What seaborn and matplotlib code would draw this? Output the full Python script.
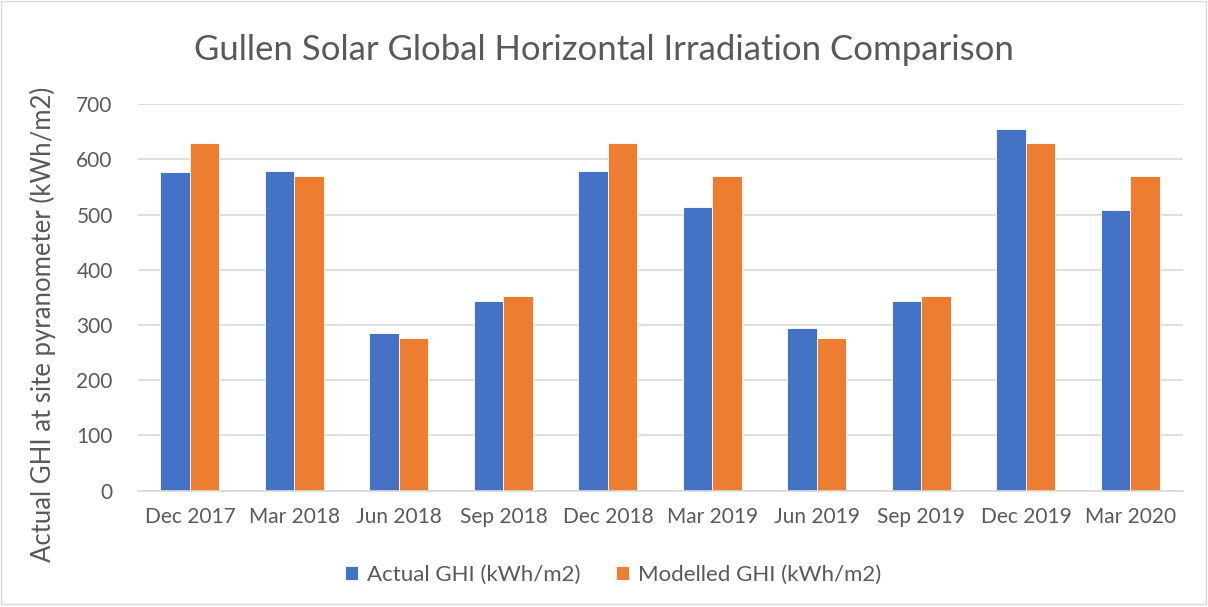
import pandas as pd
import matplotlib.pyplot as plt
import seaborn as sns
from matplotlib.patches import Rectangle

# quarter labels and values
quarters = ['Dec 2017', 'Mar 2018', 'Jun 2018', 'Sep 2018', 'Dec 2018',
            'Mar 2019', 'Jun 2019', 'Sep 2019', 'Dec 2019', 'Mar 2020']
actual_ghi = [578, 579, 285, 344, 579, 514, 295, 344, 655, 508]
modelled_ghi = [629, 570, 276, 353, 629, 570, 276, 353, 629, 570]

series_names = ['Actual GHI (kWh/m2)', 'Modelled GHI (kWh/m2)']
colors = ['#4472C4', '#ED7D31']

df = pd.DataFrame({
    'Quarter': quarters * 2,
    'GHI': actual_ghi + modelled_ghi,
    'Series': [series_names[0]] * len(quarters) + [series_names[1]] * len(quarters),
})

sns.set_style('white')
plt.rcParams['font.family'] = ['Lato', 'DejaVu Sans']
text_col = '#595959'

fig = plt.figure(figsize=(12.08, 6.07), dpi=100)
ax = fig.add_axes([0.114, 0.1916, 0.865, 0.6366])

sns.barplot(data=df, x='Quarter', y='GHI', hue='Series', palette=colors,
            width=0.565, ax=ax, saturation=1, edgecolor='white', linewidth=0.6)

ax.set_ylim(0, 700)
ax.set_yticks(range(0, 701, 100))
ax.set_xlim(-0.5, len(quarters) - 0.5)
ax.yaxis.grid(True, color='#d9d9d9', linewidth=1.2)
ax.set_axisbelow(True)
for side in ['top', 'right', 'left']:
    ax.spines[side].set_visible(False)
ax.spines['bottom'].set_color('#d9d9d9')
ax.spines['bottom'].set_linewidth(1.2)
ax.tick_params(axis='both', length=0, labelsize=15, colors=text_col)
ax.tick_params(axis='x', pad=12)
ax.tick_params(axis='y', pad=18)
ax.set_xlabel('')
ax.set_ylabel('Actual GHI at site pyranometer (kWh/m2)', fontsize=18.5, color=text_col)
ax.yaxis.set_label_coords(-0.078, 0.43)

fig.text(0.5, 0.918, 'Gullen Solar Global Horizontal Irradiation Comparison',
         ha='center', va='center', fontsize=25, color=text_col)

ax.legend(loc='upper center', bbox_to_anchor=(0.455, -0.14), ncol=2, frameon=False,
          fontsize=16, handlelength=0.6, handleheight=0.6, columnspacing=1.6,
          handletextpad=0.4, labelcolor=text_col)

fig.patches.append(Rectangle((0.001, 0.005), 0.997, 0.993, transform=fig.transFigure,
                             fill=False, edgecolor='#d9d9d9', linewidth=1))

fig.savefig('out.png', dpi=100)
